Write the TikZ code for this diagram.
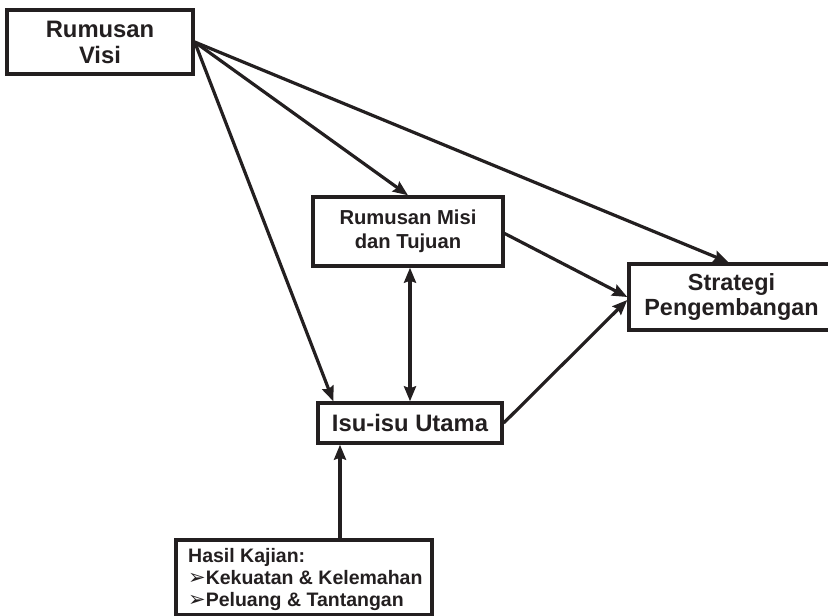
\documentclass[tikz,border=0pt]{standalone}
\usepackage{fontspec}
\setmainfont{Liberation Sans}
\newfontfamily\dingfont{DejaVu Sans}
\usetikzlibrary{arrows.meta}
\definecolor{ink}{HTML}{231F20}
\newcommand{\pointer}{{\dingfont\mdseries\fontsize{21}{21}\selectfont ➢}}
\begin{document}
\begin{tikzpicture}[x=1pt,y=-1pt,
  box/.style={draw=ink,line width=3.4pt,fill=white,text=ink,align=center,
    inner sep=0pt,font=\bfseries},
  tip/.tip={Stealth[length=15pt,width=12pt,inset=2pt]},
  arr/.style={draw=ink,line width=3.2pt,-tip},
  dblarr/.style={draw=ink,line width=3.2pt,tip-tip}]
\useasboundingbox (0,0) rectangle (828,616);

% boxes
\node[box,minimum width=186pt,minimum height=64pt,
  font=\bfseries\fontsize{23.8}{26}\selectfont] (visi) at (100,42)
  {Rumusan\\Visi};
\node[box,minimum width=190pt,minimum height=69pt,
  font=\bfseries\fontsize{20.2}{24.5}\selectfont] (misi) at (408,231.5)
  {Rumusan Misi\\dan Tujuan};
\node[box,minimum width=205pt,minimum height=66pt,
  font=\bfseries\fontsize{23.4}{25}\selectfont] (strat) at (731.5,297)
  {Strategi\\Pengembangan};
\node[box,minimum width=184pt,minimum height=40pt,
  font=\bfseries\fontsize{23.8}{26}\selectfont] (isu) at (410,423)
  {Isu-isu Utama};
\node[box,minimum width=256pt,minimum height=75pt] (hasil) at (304,577.5) {};
\node[anchor=west,inner sep=0pt,align=left,text=ink,
  font=\bfseries\fontsize{19.5}{22}\selectfont] (hasiltxt) at (188,579)
  {Hasil Kajian:\\\pointer Kekuatan \& Kelemahan\\\pointer Peluang \& Tantangan};

% connectors
\draw[arr] (visi.east) -- (misi.north);
\draw[arr] (visi.east) -- ([xshift=-3pt]strat.north);
\draw[arr] (visi.east) -- ([xshift=17pt]isu.north west);
\draw[dblarr] ([xshift=2pt]misi.south) -- (isu.north);
\draw[arr] ([yshift=-2pt]misi.east) -- (strat.west);
\draw[arr] (isu.east) -- ([yshift=-3pt]strat.west);
\draw[arr] ([xshift=36pt]hasil.north) -- ([xshift=-70pt]isu.south);
\end{tikzpicture}
\end{document}
